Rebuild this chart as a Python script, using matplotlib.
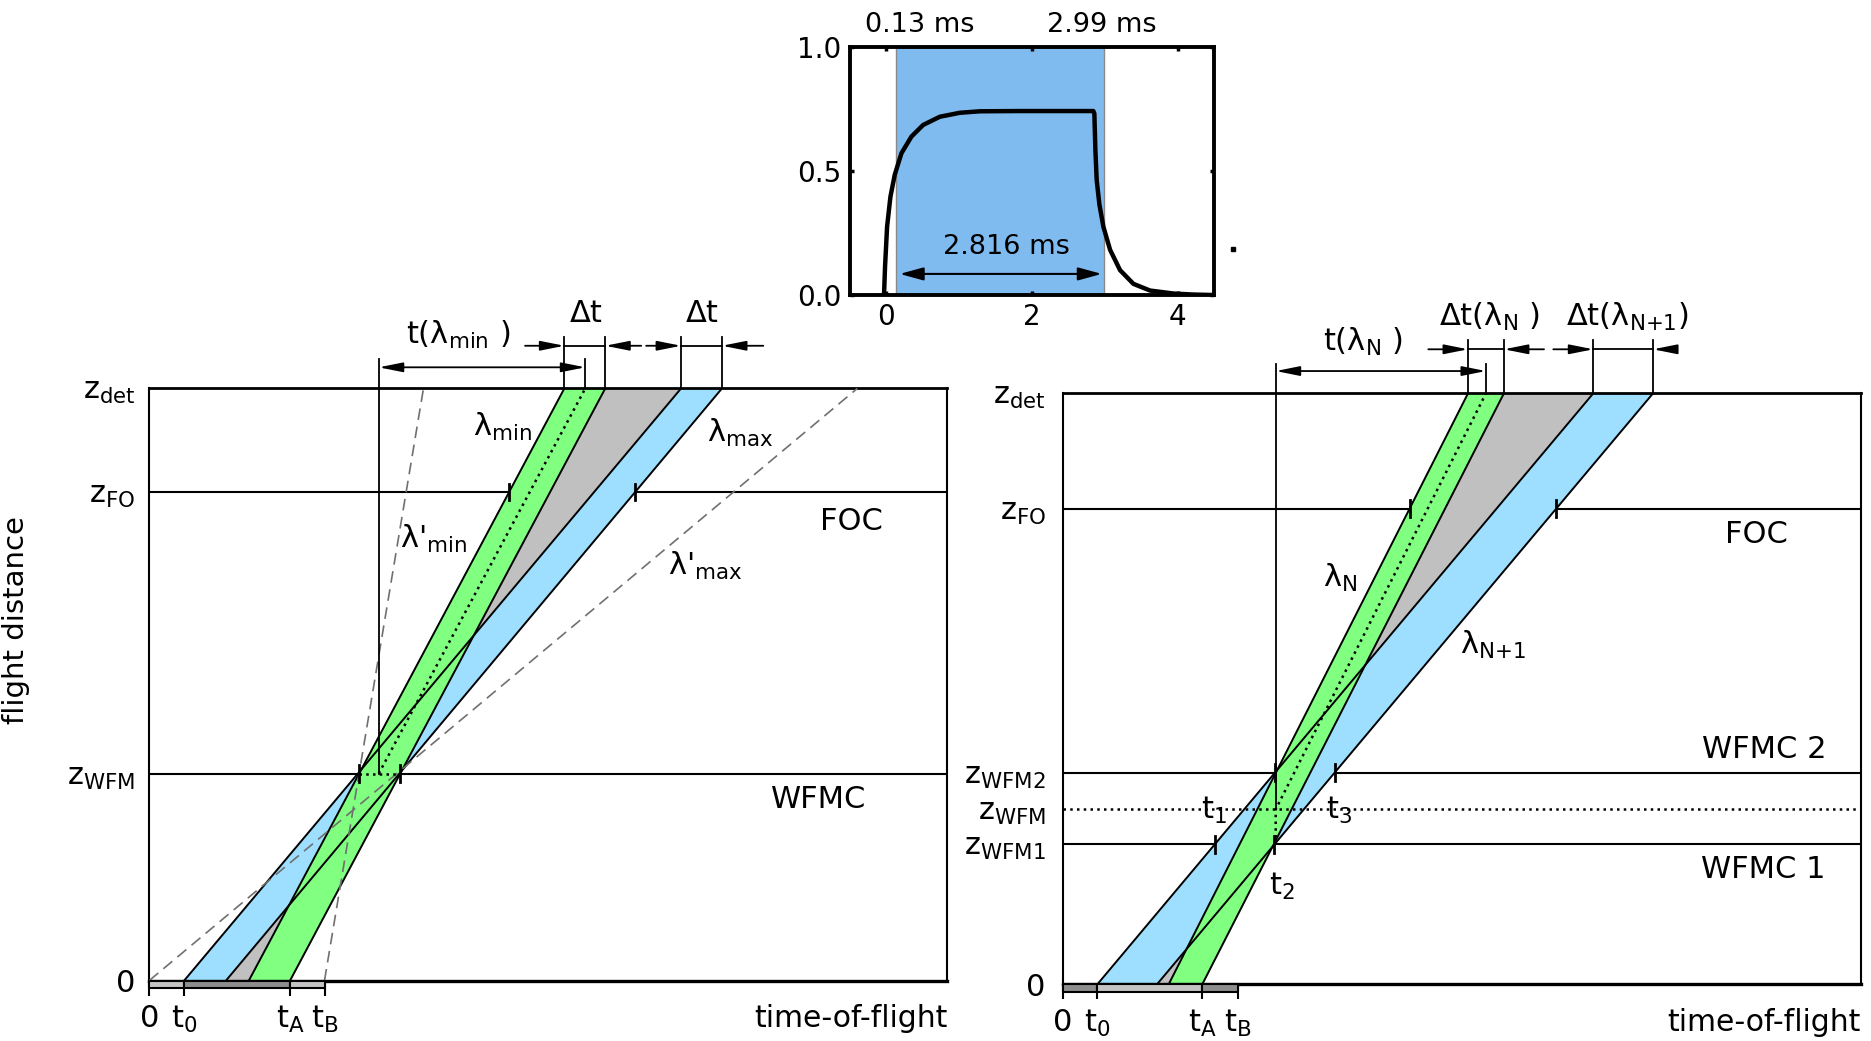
import numpy as np
import matplotlib
matplotlib.use('Agg')
import matplotlib.pyplot as plt

plt.rcParams['font.family'] = ['DejaVu Sans']
plt.rcParams['mathtext.default'] = 'regular'

BLUE = '#9edfff'
GREEN = '#80ff80'
GREY = '#c0c0c0'
BAR_LIGHT = '#c4c4c4'
BAR_DARK = '#8e8e8e'
FS = 21

# ---- inset: chopper transmission pulse (ms, normalised) ----
pulse_t = [-0.033, -0.019, 0.009, 0.055, 0.114, 0.206, 0.343, 0.504, 0.733, 1.007, 1.282,
           1.8, 2.4, 2.84, 2.854, 2.868, 2.886, 2.923, 2.978, 3.07, 3.207, 3.39, 3.619, 3.94, 4.2, 4.49]
pulse_y = [0.0, 0.114, 0.275, 0.396, 0.484, 0.571, 0.638, 0.685, 0.718, 0.734, 0.740,
           0.741, 0.741, 0.741, 0.731, 0.584, 0.463, 0.365, 0.275, 0.182, 0.100, 0.045, 0.018, 0.006, 0.002, 0.0]
open_t, close_t = 0.13, 2.99
pulse_len = '2.816 ms'

# ---- left panel (single WFM chopper) ----
# edge order: blue left, blue right, green left, green right
left_bottom = [0.35, 0.769, 0.998, 1.411]
left_top = [5.33, 5.74, 4.16, 4.57]
left_centre_top = 4.37
left_wfm_centre = 2.30
left_zticks = [0.0, 0.3496, 0.825, 1.0]
left_zlabels = ['0', 'z$_{WFM}$', 'z$_{FO}$', 'z$_{det}$']
left_tticks = [0.0, 0.35, 1.411, 1.756]
left_dash_max = ([0.0, 7.097], [0.0, 1.0])
left_dash_min = ([1.756, 2.748], [0.0, 1.0])

# ---- right panel (double WFM chopper) ----
right_bottom = [0.349, 0.947, 1.064, 1.401]
right_top = [5.321, 5.92, 4.065, 4.425]
right_centre_top = 4.245
right_wfm_centre = 2.137
right_zticks = [0.0, 0.237, 0.296, 0.358, 0.805, 1.0]
right_zlabels = ['0', 'z$_{WFM1}$', 'z$_{WFM}$', 'z$_{WFM2}$', 'z$_{FO}$', 'z$_{det}$']
right_tticks = [0.0, 0.349, 1.401, 1.756]
tlabels = ['0', 't$_0$', 't$_A$', 't$_B$']


def edge_t(i, z, bottom, top):
    return bottom[i] + (top[i] - bottom[i]) * z


def crossing(a, b, bottom, top):
    da = top[a] - bottom[a]
    db = top[b] - bottom[b]
    z = (bottom[b] - bottom[a]) / (da - db)
    return bottom[a] + da * z, z


def draw_bands(ax, bottom, top):
    ax.fill([bottom[0], bottom[1], top[1], top[0]], [0, 0, 1, 1], color=BLUE, lw=0, zorder=2)
    tx, zx = crossing(1, 2, bottom, top)
    ax.fill([bottom[1], bottom[2], tx], [0, 0, zx], color=GREY, lw=0, zorder=2)
    tx, zx = crossing(3, 0, bottom, top)
    ax.fill([tx, top[3], top[0]], [zx, 1, 1], color=GREY, lw=0, zorder=2)
    ax.fill([bottom[2], bottom[3], top[3], top[2]], [0, 0, 1, 1], color=GREEN, lw=0, zorder=2.2)
    for b, t in zip(bottom, top):
        ax.plot([b, t], [0, 1], color='k', lw=1.4, zorder=3)


def mark(ax, t, z):
    ax.plot([t, t], [z - 0.014, z + 0.014], color='k', lw=2, zorder=5)


def arrow(ax, x0, x1, y, style='-|>'):
    ax.annotate('', xy=(x1, y), xytext=(x0, y), annotation_clip=False,
                arrowprops=dict(arrowstyle=style + ',head_length=0.8,head_width=0.16',
                                mutation_scale=18, color='k', lw=1.3,
                                shrinkA=0, shrinkB=0))


def setup(ax, zticks, zlabels, tticks, bar_cols, ypad):
    ax.set_xlim(0, 8)
    ax.set_ylim(0, 1)
    for s in ['left', 'right']:
        ax.spines[s].set_linewidth(1.5)
    ax.spines['top'].set_linewidth(2)
    ax.spines['bottom'].set_linewidth(2.4)
    ax.set_yticks(zticks, zlabels)
    ax.tick_params(axis='y', length=0, pad=ypad, labelsize=22)
    ax.set_xticks(tticks, tlabels)
    ax.tick_params(axis='x', direction='out', length=11, width=1.5, pad=6, labelsize=22)
    segs = [(tticks[i], tticks[i + 1] - tticks[i]) for i in range(3)]
    ax.broken_barh(segs, (-0.0125, 0.0125), facecolors=bar_cols, edgecolor='k',
                   lw=1.5, clip_on=False, zorder=4)
    ax.text(8, -0.064, 'time-of-flight', ha='right', va='center', fontsize=21.5)


def top_annotations(ax, top, centre_top, centre_wfm, z_wfm, yt, yd, ytop, tails):
    # verticals at band arrival times
    for i in [2, 3, 0, 1]:
        ax.plot([top[i], top[i]], [1, ytop], color='k', lw=1.3, clip_on=False)
    ax.plot([centre_top, centre_top], [1, 1.05], color='k', lw=1.3, clip_on=False)
    ax.plot([centre_wfm, centre_wfm], [z_wfm, 1.05], color='k', lw=1.3, clip_on=False, zorder=4)
    arrow(ax, centre_wfm, centre_top, yt, '<|-|>')
    # delta-t markers
    ax.plot([top[2], top[3]], [yd, yd], color='k', lw=1.3, clip_on=False)
    ax.plot([top[0], top[1]], [yd, yd], color='k', lw=1.3, clip_on=False)
    arrow(ax, tails[0], top[2], yd)
    arrow(ax, tails[1], top[3], yd)
    arrow(ax, tails[2], top[0], yd)
    arrow(ax, tails[3], top[1], yd)


fig = plt.figure(figsize=(18.71, 10.41), dpi=100)

# ================= left panel =================
axl = fig.add_axes([0.0798, 0.0581, 0.4266, 0.5688])
setup(axl, left_zticks, left_zlabels, left_tticks, [BAR_LIGHT, BAR_DARK, BAR_LIGHT], 10)
for z in left_zticks[1:3]:
    axl.axhline(z, color='k', lw=1.5, zorder=1)
draw_bands(axl, left_bottom, left_top)
axl.plot(*left_dash_max, color='#707070', lw=1.2, ls=(0, (7, 4)), zorder=3.5)
axl.plot(*left_dash_min, color='#707070', lw=1.2, ls=(0, (7, 4)), zorder=3.5)
zw = left_zticks[1]
t_open = (edge_t(0, zw, left_bottom, left_top) + edge_t(2, zw, left_bottom, left_top)) / 2
t_close = (edge_t(1, zw, left_bottom, left_top) + edge_t(3, zw, left_bottom, left_top)) / 2
axl.plot([t_open, t_close], [zw, zw], color='k', lw=1.8, ls=(0, (1, 1.7)), zorder=4)
axl.plot([left_wfm_centre, left_centre_top], [zw, 1], color='k', lw=1.8, ls=(0, (1, 1.7)), zorder=4)
mark(axl, t_open, zw)
mark(axl, t_close, zw)
mark(axl, edge_t(2, left_zticks[2], left_bottom, left_top), left_zticks[2])
mark(axl, edge_t(1, left_zticks[2], left_bottom, left_top), left_zticks[2])
top_annotations(axl, left_top, left_centre_top, left_wfm_centre, zw,
                1.0356, 1.072, 1.087, [3.766, 4.93, 4.98, 6.154])
axl.text(3.10, 1.09, 't($\\lambda_{min}$ )', ha='center', va='center', fontsize=22)
axl.text(4.384, 1.127, 'Δt', ha='center', va='center', fontsize=22)
axl.text(5.546, 1.127, 'Δt', ha='center', va='center', fontsize=22)
axl.text(3.537, 0.935, '$\\lambda_{min}$', ha='center', va='center', fontsize=22)
axl.text(5.918, 0.9255, '$\\lambda_{max}$', ha='center', va='center', fontsize=22)
axl.text(2.848, 0.7456, "λ'$_{min}$", ha='center', va='center', fontsize=22)
axl.text(5.573, 0.70, "λ'$_{max}$", ha='center', va='center', fontsize=22)
axl.text(7.037, 0.776, 'FOC', ha='center', va='center', fontsize=22)
axl.text(6.707, 0.305, 'WFMC', ha='center', va='center', fontsize=22)
axl.set_ylabel('flight distance', fontsize=FS)
axl.yaxis.set_label_coords(-0.1495, 0.609)

# ================= right panel =================
axr = fig.add_axes([0.5679, 0.05447, 0.4265, 0.5677])
setup(axr, right_zticks, right_zlabels, right_tticks, [BAR_DARK, BAR_LIGHT, BAR_DARK], 12)
zw1, zwm, zw2, zfo = right_zticks[1:5]
for z in [zw1, zw2, zfo]:
    axr.axhline(z, color='k', lw=1.5, zorder=1)
axr.axhline(zwm, color='k', lw=1.8, ls=(0, (1, 1.7)), zorder=4)
draw_bands(axr, right_bottom, right_top)
axr.plot([right_wfm_centre, right_wfm_centre, right_centre_top], [zw1, zwm, 1],
         color='k', lw=1.8, ls=(0, (1, 1.7)), zorder=4)
mark(axr, edge_t(2, zfo, right_bottom, right_top), zfo)
mark(axr, edge_t(1, zfo, right_bottom, right_top), zfo)
mark(axr, (edge_t(0, zw2, right_bottom, right_top) + edge_t(2, zw2, right_bottom, right_top)) / 2, zw2)
mark(axr, edge_t(1, zw2, right_bottom, right_top), zw2)
mark(axr, edge_t(0, zw1, right_bottom, right_top), zw1)
mark(axr, (edge_t(1, zw1, right_bottom, right_top) + edge_t(3, zw1, right_bottom, right_top)) / 2, zw1)
top_annotations(axr, right_top, right_centre_top, right_wfm_centre, zwm,
                1.0377, 1.0745, 1.09, [3.667, 4.827, 4.92, 6.157])
axr.text(3.011, 1.087, 't($\\lambda_N$ )', ha='center', va='center', fontsize=22)
axr.text(4.275, 1.13, 'Δt($\\lambda_N$ )', ha='center', va='center', fontsize=22)
axr.text(5.664, 1.13, 'Δt($\\lambda_{N{+}1}$)', ha='center', va='center', fontsize=22)
axr.text(2.778, 0.687, '$\\lambda_N$', ha='center', va='center', fontsize=22)
axr.text(4.313, 0.574, '$\\lambda_{N{+}1}$', ha='center', va='center', fontsize=22)
axr.text(1.52, 0.295, 't$_1$', ha='center', va='center', fontsize=22)
axr.text(2.77, 0.295, 't$_3$', ha='center', va='center', fontsize=22)
axr.text(2.196, 0.165, 't$_2$', ha='center', va='center', fontsize=22)
axr.text(6.957, 0.7616, 'FOC', ha='center', va='center', fontsize=22)
axr.text(7.03, 0.398, 'WFMC 2', ha='center', va='center', fontsize=22)
axr.text(7.021, 0.1948, 'WFMC 1', ha='center', va='center', fontsize=22)

# ================= inset =================
axi = fig.add_axes([0.4543, 0.7166, 0.1947, 0.2385])
axi.axvspan(open_t, close_t, facecolor='#80bbf0', edgecolor='#8a8a8a', lw=1.0)
axi.plot(pulse_t, pulse_y, color='k', lw=3.2)
axi.set_xlim(-0.5, 4.5)
axi.set_ylim(0, 1)
axi.set_xticks([0, 2, 4])
axi.set_yticks([0, 0.5, 1.0], ['0.0', '0.5', '1.0'])
axi.tick_params(direction='in', length=3, width=2.5, top=True, right=True, labelsize=20, pad=6)
for s in axi.spines.values():
    s.set_linewidth(2.8)
axi.annotate('', xy=(2.955, 0.085), xytext=(0.183, 0.085),
             arrowprops=dict(arrowstyle='<|-|>,head_length=0.8,head_width=0.22',
                             mutation_scale=18, color='k', lw=1.5, shrinkA=0, shrinkB=0))
axi.text(1.65, 0.1945, pulse_len, ha='center', va='center', fontsize=19.5)
axi.text(0.458, 1.087, '%.2f ms' % open_t, ha='center', va='center', fontsize=19.5,
         transform=axi.get_xaxis_transform())
axi.text(2.955, 1.087, '%.2f ms' % close_t, ha='center', va='center', fontsize=19.5,
         transform=axi.get_xaxis_transform())
axi.plot([4.756], [0.184], 's', ms=3, color='k', clip_on=False)

fig.savefig('out.png', dpi=100)
